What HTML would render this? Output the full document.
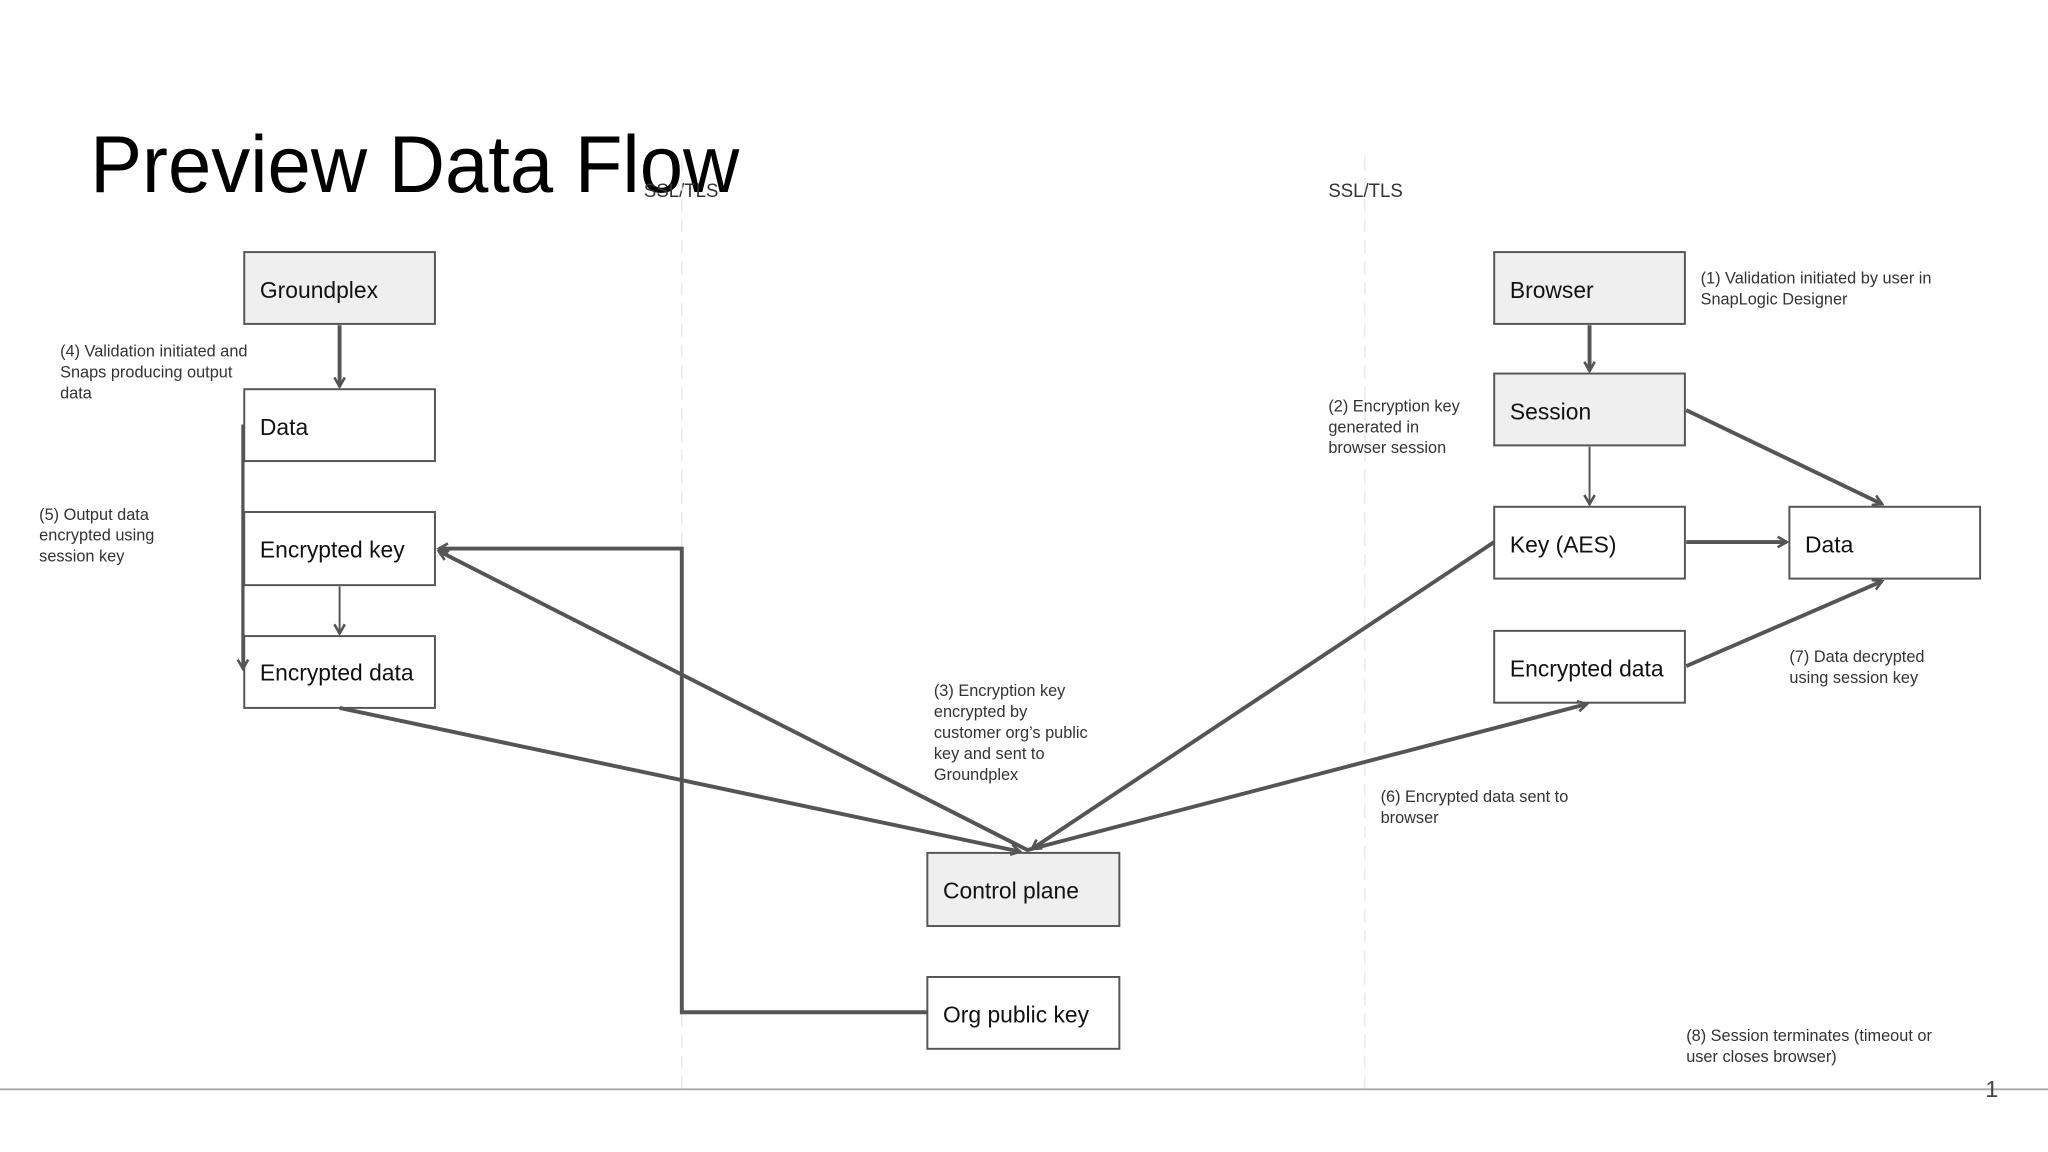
<!DOCTYPE html>
<html><head><meta charset="utf-8"><style>
html,body{margin:0;padding:0;background:#fff;}
svg{display:block;}
text{font-family:"Liberation Sans",sans-serif;}
.b{fill:#fff;stroke:#555;stroke-width:1.5;}
.g{fill:#efefef;stroke:#555;stroke-width:1.5;}
.bl{font-size:17.5px;fill:#111;}
.n{font-size:12.5px;fill:#333;}
.l{stroke:#555;fill:none;}
</style></head><body>
<svg width="2048" height="1152" viewBox="0 0 1568 882" preserveAspectRatio="none" xmlns="http://www.w3.org/2000/svg">
<defs>
<marker id="a" markerWidth="10" markerHeight="10" refX="8" refY="5" orient="auto" markerUnits="userSpaceOnUse">
<path d="M1,1 L8,5 L1,9" fill="none" stroke="#555" stroke-width="2"/>
</marker>
</defs>
<text x="69" y="147" font-size="62" fill="#000" textLength="497" lengthAdjust="spacingAndGlyphs">Preview Data Flow</text>
<text x="493" y="151" font-size="15" fill="#333" textLength="57" lengthAdjust="spacingAndGlyphs">SSL/TLS</text>
<text x="1017" y="151" font-size="15" fill="#333" textLength="57" lengthAdjust="spacingAndGlyphs">SSL/TLS</text>
<line x1="522" y1="120" x2="522" y2="835" stroke="#e6e6e6" stroke-dasharray="10,6"/>
<line x1="1045" y1="120" x2="1045" y2="835" stroke="#e6e6e6" stroke-dasharray="10,6"/>
<line x1="0" y1="834" x2="1568" y2="834" stroke="#aaa" stroke-width="1.5"/>
<text x="1520" y="840" font-size="18" fill="#444">1</text>

<rect class="g" x="187" y="193" width="146" height="55"/><text class="bl" x="199" y="228">Groundplex</text>
<rect class="b" x="187" y="298" width="146" height="55"/><text class="bl" x="199" y="333">Data</text>
<rect class="b" x="187" y="392" width="146" height="56"/><text class="bl" x="199" y="427">Encrypted key</text>
<rect class="b" x="187" y="487" width="146" height="55"/><text class="bl" x="199" y="521">Encrypted data</text>
<rect class="g" x="1144" y="193" width="146" height="55"/><text class="bl" x="1156" y="228">Browser</text>
<rect class="g" x="1144" y="286" width="146" height="55"/><text class="bl" x="1156" y="321">Session</text>
<rect class="b" x="1144" y="388" width="146" height="55"/><text class="bl" x="1156" y="423">Key (AES)</text>
<rect class="b" x="1370" y="388" width="146" height="55"/><text class="bl" x="1382" y="423">Data</text>
<rect class="b" x="1144" y="483" width="146" height="55"/><text class="bl" x="1156" y="518">Encrypted data</text>
<rect class="g" x="710" y="653" width="147" height="56"/><text class="bl" x="722" y="688">Control plane</text>
<rect class="b" x="710" y="748" width="147" height="55"/><text class="bl" x="722" y="783">Org public key</text>

<line class="l" stroke-width="3" x1="260" y1="249" x2="260" y2="296" marker-end="url(#a)"/>
<line class="l" stroke-width="2.5" x1="186" y1="325" x2="186" y2="512" marker-end="url(#a)"/>
<line class="l" stroke-width="1.5" x1="260" y1="449" x2="260" y2="485" marker-end="url(#a)"/>
<polyline class="l" stroke-width="3" points="710,775 522,775 522,420 336,420" marker-end="url(#a)"/>
<line class="l" stroke-width="3" x1="787" y1="651" x2="336" y2="422" marker-end="url(#a)"/>
<line class="l" stroke-width="3" x1="260" y1="542" x2="781" y2="652" marker-end="url(#a)"/>
<line class="l" stroke-width="3" x1="1144" y1="415" x2="790" y2="650" marker-end="url(#a)"/>
<line class="l" stroke-width="3" x1="786" y1="651" x2="1215" y2="539" marker-end="url(#a)"/>
<line class="l" stroke-width="3" x1="1217" y1="249" x2="1217" y2="284" marker-end="url(#a)"/>
<line class="l" stroke-width="1.5" x1="1217" y1="342" x2="1217" y2="386" marker-end="url(#a)"/>
<line class="l" stroke-width="3" x1="1291" y1="314" x2="1441" y2="386" marker-end="url(#a)"/>
<line class="l" stroke-width="3" x1="1291" y1="415" x2="1368" y2="415" marker-end="url(#a)"/>
<line class="l" stroke-width="3" x1="1291" y1="510" x2="1441" y2="445" marker-end="url(#a)"/>

<text class="n" x="46" y="273">(4) Validation initiated and</text>
<text class="n" x="46" y="289">Snaps producing output</text>
<text class="n" x="46" y="305">data</text>
<text class="n" x="30" y="398">(5) Output data</text>
<text class="n" x="30" y="414">encrypted using</text>
<text class="n" x="30" y="430">session key</text>
<text class="n" x="1302" y="217">(1) Validation initiated by user in</text>
<text class="n" x="1302" y="233">SnapLogic Designer</text>
<text class="n" x="1017" y="315">(2) Encryption key</text>
<text class="n" x="1017" y="331">generated in</text>
<text class="n" x="1017" y="347">browser session</text>
<text class="n" x="715" y="533">(3) Encryption key</text>
<text class="n" x="715" y="549">encrypted by</text>
<text class="n" x="715" y="565">customer org’s public</text>
<text class="n" x="715" y="581">key and sent to</text>
<text class="n" x="715" y="597">Groundplex</text>
<text class="n" x="1057" y="614">(6) Encrypted data sent to</text>
<text class="n" x="1057" y="630">browser</text>
<text class="n" x="1370" y="507">(7) Data decrypted</text>
<text class="n" x="1370" y="523">using session key</text>
<text class="n" x="1291" y="797">(8) Session terminates (timeout or</text>
<text class="n" x="1291" y="813">user closes browser)</text>
</svg>
</body></html>
